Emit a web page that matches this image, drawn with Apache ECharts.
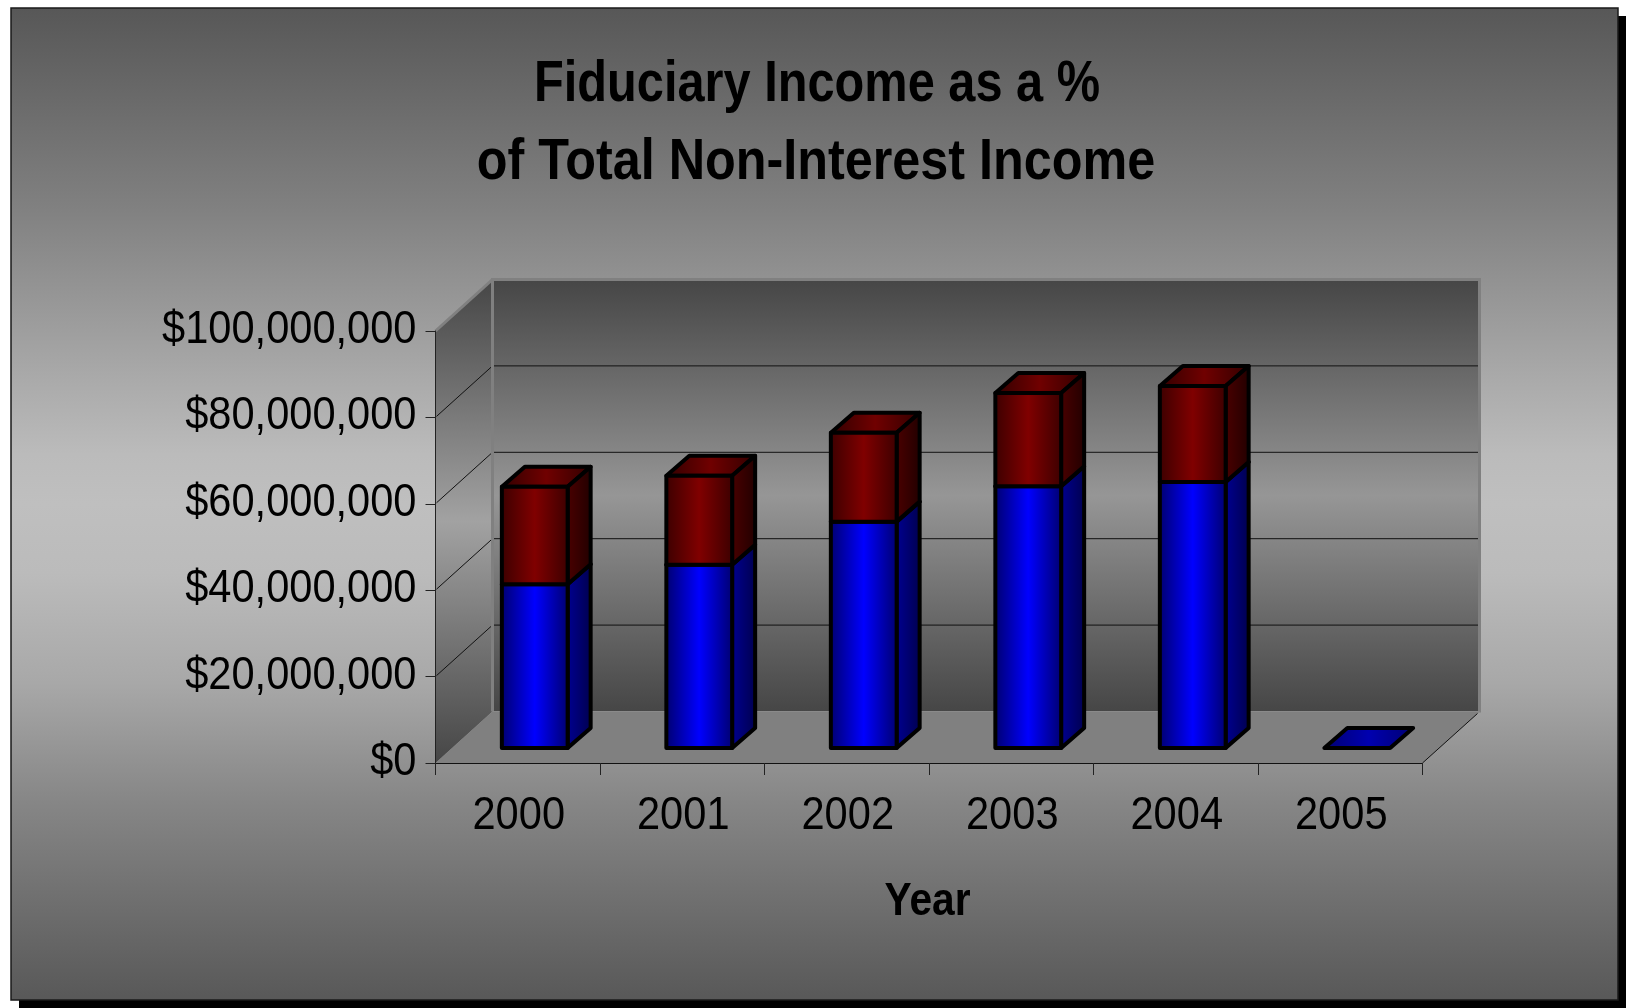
<!DOCTYPE html>
<html>
<head>
<meta charset="utf-8">
<style>html,body{margin:0;padding:0;background:#fff}#chart{width:1626px;height:1008px}</style>
<script src="https://cdn.jsdelivr.net/npm/echarts@6/dist/echarts.min.js"></script>
</head>
<body>
<div id="chart"></div>
<script>
// Chart content
const years = ['2000', '2001', '2002', '2003', '2004', '2005'];
const fiduciaryIncome = [37900000, 42400000, 52400000, 60600000, 61600000, 0];
const otherNonInterestIncome = [22600000, 20600000, 20600000, 21600000, 22200000, 0];
const valueTicks = [0, 20000000, 40000000, 60000000, 80000000, 100000000];
const wallTicks = [20000000, 40000000, 60000000, 80000000];
const titleLines = ['Fiduciary Income as a %', 'of Total Non-Interest Income'];
const xAxisTitle = 'Year';

// Oblique projection used for the pseudo-3D box and columns
const WALL_DX = 57, WALL_DY = -51.5;
const BAR_NEAR_DX = 17, BAR_NEAR_DY = -15;
const BAR_DEPTH_DX = 23, BAR_DEPTH_DY = -20;
const BAND_TO_BAR = 1 / 2.5;

// Condensed lettering: Liberation Sans squeezed horizontally
const FONT = '"Liberation Sans", Arial, sans-serif';
const LABEL_SIZE = 47, LABEL_SQUEEZE = 0.885;

const G = echarts.graphic.LinearGradient;
const vert = (a, b) => new G(0, 0, 0, 1, [{offset: 0, color: a}, {offset: .5, color: b}, {offset: 1, color: a}]);
const horiz3 = (a, b) => new G(0, 0, 1, 0, [{offset: 0, color: a}, {offset: .5, color: b}, {offset: 1, color: a}]);
const horiz2 = (a, b) => new G(0, 0, 1, 0, [{offset: 0, color: a}, {offset: 1, color: b}]);

// Page backdrop: grey band that peaks mid-height with a soft plateau
const BACKDROP = new G(0, 0, 0, 1, [
  {offset: 0, color: '#575757'},
  {offset: .2, color: '#808080'},
  {offset: .375, color: '#aaaaaa'},
  {offset: .45, color: '#bbbbbb'},
  {offset: .5, color: '#bfbfbf'},
  {offset: .57, color: '#bbbbbb'},
  {offset: .68, color: '#a8a8a8'},
  {offset: .8, color: '#868686'},
  {offset: 1, color: '#585858'}
]);

const BLUE = {front: horiz3('#00006a', '#0000ff'), side: horiz2('#000094', '#00004c'), top: horiz3('#000070', '#0000b0')};
const RED = {front: horiz3('#3a0000', '#800000'), side: horiz2('#4c0000', '#200000'), top: horiz3('#300000', '#700000')};

function poly(points, fill, stroke, lineWidth) {
  return {
    type: 'polygon',
    shape: {points},
    style: {fill, stroke: stroke || 'none', lineWidth: lineWidth || 0, lineJoin: 'round'}
  };
}
function line(x1, y1, x2, y2, stroke, lineWidth) {
  return {type: 'line', shape: {x1, y1, x2, y2}, style: {stroke, lineWidth: lineWidth || 1}};
}

// Back wall, side wall, floor and their gridlines
function renderWalls(params, api) {
  const s = params.coordSys;
  const left = s.x, right = s.x + s.width, top = s.y, base = s.y + s.height;
  const dx = WALL_DX, dy = WALL_DY;
  const children = [
    poly([[left + dx, top + dy], [right + dx, top + dy], [right + dx, base + dy], [left + dx, base + dy]],
      vert('#464646', '#969696')),
    poly([[left, top], [left + dx, top + dy], [left + dx, base + dy], [left, base]],
      vert('#464646', '#a2a2a2')),
    poly([[left, base], [right, base], [right + dx, base + dy], [left + dx, base + dy]], '#808080')
  ];
  wallTicks.forEach(v => {
    const y = api.coord([0, v])[1];
    children.push(line(left + 1, y - 1, left + dx, y + dy, '#111', 1));
    children.push(line(left + dx, y + dy, right + dx, y + dy, '#111', 1));
  });
  children.push(line(left, top, left + dx, top + dy, '#808080', 3));
  children.push(line(left + dx - 1.5, top + dy, right + dx + 1.5, top + dy, '#808080', 3));
  children.push(line(left + dx, top + dy, left + dx, base + dy, '#808080', 3));
  children.push(line(right + dx, top + dy, right + dx, base + dy + 1, '#808080', 3));
  children.push(line(left + dx, base + dy, right + dx, base + dy, '#8a8a8a', 1));
  children.push(line(right, base, right + dx - 2, base + dy + 2, '#111', 1));
  return {type: 'group', children};
}

// One stacked column segment: front, side and top faces between two values
function renderSegment(palette) {
  return function (params, api) {
    const i = api.value(0), low = api.value(1), high = api.value(2);
    const a = api.coord([i, low]), b = api.coord([i, high]);
    const w = api.size([1, 0])[0] * BAND_TO_BAR;
    const x0 = a[0] - w / 2 + BAR_NEAR_DX, x1 = x0 + w;
    const y0 = a[1] + BAR_NEAR_DY, y1 = b[1] + BAR_NEAR_DY;
    const ddx = BAR_DEPTH_DX, ddy = BAR_DEPTH_DY;
    const border = ['#000', 4];
    const children = [
      poly([[x0, y1], [x0 + ddx, y1 + ddy], [x1 + ddx, y1 + ddy], [x1, y1]], palette.top, ...border)
    ];
    if (high > low) {
      children.push(poly([[x1, y0], [x1 + ddx, y0 + ddy], [x1 + ddx, y1 + ddy], [x1, y1]], palette.side, ...border));
      children.push(poly([[x0, y0], [x1, y0], [x1, y1], [x0, y1]], palette.front, ...border));
    }
    return {type: 'group', children};
  };
}

function squeezedText(x, y, text, align, size, weight, squeeze) {
  return {
    type: 'text',
    x, y,
    scaleX: squeeze,
    style: {
      text, fill: '#000', textAlign: align, textVerticalAlign: 'middle',
      font: `${weight} ${size}px ${FONT}`
    }
  };
}

// Axis tick labels, placed through the axes so they follow the scales
function renderValueLabel(params, api) {
  const v = api.value(1);
  const p = api.coord([0, v]);
  return squeezedText(params.coordSys.x - 19, p[1] - 1, '$' + v.toLocaleString('en-US'),
    'right', LABEL_SIZE, 'normal', LABEL_SQUEEZE);
}
function renderYearLabel(params, api) {
  const i = api.value(0);
  const p = api.coord([i, 0]);
  return squeezedText(p[0] + 1, p[1] + 53, years[i], 'center', LABEL_SIZE, 'normal', LABEL_SQUEEZE);
}

const chart = echarts.init(document.getElementById('chart'), null, {renderer: 'canvas'});
chart.setOption({
  animation: false,
  graphic: {
    elements: [
      {type: 'rect', z: 0, shape: {x: 19, y: 16, width: 1607, height: 992}, style: {fill: '#000'}},
      {
        type: 'rect', z: 0,
        shape: {x: 11, y: 8, width: 1607, height: 992},
        style: {fill: BACKDROP, stroke: '#1a1a1a', lineWidth: 1.5}
      },
      Object.assign(squeezedText(817, 85, titleLines[0], 'center', 58, 'bold', 0.84), {z: 10}),
      Object.assign(squeezedText(816, 162.5, titleLines[1], 'center', 58, 'bold', 0.868), {z: 10}),
      Object.assign(squeezedText(927.5, 902.5, xAxisTitle, 'center', 46, 'bold', 0.885), {z: 10})
    ]
  },
  grid: {left: 435.5, right: 203.5, top: 331, bottom: 245, containLabel: false},
  xAxis: {
    type: 'category',
    data: years,
    z: 3,
    axisLine: {lineStyle: {color: '#111', width: 1}},
    axisTick: {show: true, length: 12, lineStyle: {color: '#222', width: 1}},
    axisLabel: {show: false}
  },
  yAxis: {
    type: 'value',
    min: 0,
    max: 100000000,
    interval: 20000000,
    z: 3,
    splitLine: {show: false},
    axisLine: {show: true, lineStyle: {color: '#222', width: 1}},
    axisTick: {show: true, length: 10, lineStyle: {color: '#222', width: 1}},
    axisLabel: {show: false}
  },
  series: [
    {
      type: 'custom',
      name: 'Walls',
      z: 1,
      silent: true,
      clip: false,
      renderItem: renderWalls,
      encode: {x: 0, y: 1},
      data: [[0, 0]]
    },
    {
      type: 'custom',
      name: 'Fiduciary Income',
      z: 4,
      clip: false,
      renderItem: renderSegment(BLUE),
      encode: {x: 0, y: [1, 2]},
      data: years.map((_, i) => [i, 0, fiduciaryIncome[i]])
    },
    {
      type: 'custom',
      name: 'Other Non-Interest Income',
      z: 5,
      clip: false,
      renderItem: (params, api) => api.value(2) > api.value(1) ? renderSegment(RED)(params, api) : null,
      encode: {x: 0, y: [1, 2]},
      data: years.map((_, i) => [i, fiduciaryIncome[i], fiduciaryIncome[i] + otherNonInterestIncome[i]])
    },
    {
      type: 'custom',
      name: 'Value labels',
      z: 6,
      silent: true,
      clip: false,
      renderItem: renderValueLabel,
      encode: {x: 0, y: 1},
      data: valueTicks.map(v => [0, v])
    },
    {
      type: 'custom',
      name: 'Year labels',
      z: 6,
      silent: true,
      clip: false,
      renderItem: renderYearLabel,
      encode: {x: 0, y: 1},
      data: years.map((_, i) => [i, 0])
    }
  ]
});
</script>
</body>
</html>
